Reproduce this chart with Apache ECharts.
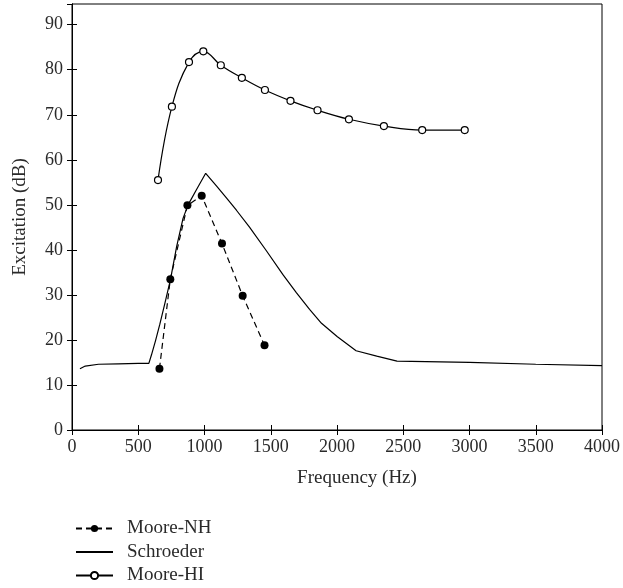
<!DOCTYPE html>
<html>
<head>
<meta charset="utf-8">
<script src="https://cdn.jsdelivr.net/npm/echarts@6/dist/echarts.min.js"></script>
<style>html,body{margin:0;padding:0;background:#fff}#c{width:623px;height:588px}</style>
</head>
<body>
<div id="c"></div>
<script>
// Moore-HI (open circles)
const hiFreq = [649, 754, 883, 991, 1123, 1282, 1456, 1649, 1853, 2090, 2354, 2643, 2964];
const hiVal  = [55.5, 71.8, 81.7, 84.1, 81.0, 78.2, 75.5, 73.1, 71.0, 69.0, 67.5, 66.6, 66.6];
// Moore-NH (filled circles, dashed)
const nhFreq = [660, 742, 871, 979, 1132, 1288, 1453];
const nhVal  = [13.6, 33.5, 49.9, 52.0, 41.4, 29.8, 18.8];
// Schroeder (solid line)
const scFreq = [60, 100, 200, 350, 500, 580, 600, 630, 663, 700, 743, 790, 838, 876, 940, 1009, 1090, 1170, 1241, 1341, 1467, 1592, 1693, 1793, 1883, 2003, 2144, 2300, 2453, 3000, 3500, 4000];
const scVal  = [13.6, 14.2, 14.6, 14.7, 14.8, 14.8, 16.7, 19.8, 23.5, 28.0, 33.4, 40.8, 47.0, 50.0, 53.4, 57.0, 54.2, 51.4, 48.8, 45.0, 39.8, 34.5, 30.5, 26.8, 23.7, 20.7, 17.6, 16.4, 15.3, 15.0, 14.6, 14.3];
const xTicks = [0, 500, 1000, 1500, 2000, 2500, 3000, 3500, 4000];
const yTicks = [0, 10, 20, 30, 40, 50, 60, 70, 80, 90];
const legendNames = ['Moore-NH', 'Schroeder', 'Moore-HI'];

const zip = (a, b) => a.map((v, i) => [v, b[i]]);
const font = 'Liberation Serif';
const txt = '#2a2a2a';
const chart = echarts.init(document.getElementById('c'));
const axCommon = {
  splitLine: {show: false},
  axisLine: {show: true, lineStyle: {color: '#000', width: 1}},
  axisTick: {show: true, inside: true, length: 5, lineStyle: {color: '#000'}},
};
const legendTops = [514, 537.5, 561];
chart.setOption({
  animation: false,
  textStyle: {fontFamily: font},
  grid: {left: 72, right: 20, top: 4, bottom: 158, show: true, borderColor: '#000', borderWidth: 1},
  xAxis: [
    Object.assign({type: 'value', min: xTicks[0], max: xTicks[xTicks.length-1], interval: 500,
      name: 'Frequency (Hz)', nameLocation: 'middle', nameGap: 39,
      nameTextStyle: {fontFamily: font, fontSize: 19, color: txt, padding: [0, 0, 0, 40]},
      axisLabel: {fontFamily: font, fontSize: 18, color: txt, margin: 8, formatter: v => String(v)}}, axCommon),
    Object.assign({type: 'value', position: 'top', min: 0, max: 4000, interval: 500,
      axisLabel: {show: false}}, axCommon)
  ],
  yAxis: [
    Object.assign({type: 'value', min: 0, max: 94.6, interval: 10,
      name: 'Excitation (dB)', nameLocation: 'middle', nameGap: 42,
      nameTextStyle: {fontFamily: font, fontSize: 19, color: txt},
      axisLabel: {fontFamily: font, fontSize: 18, color: txt, margin: 9, showMaxLabel: false,
        formatter: v => yTicks.includes(v) ? String(v) : ''}}, axCommon),
    Object.assign({type: 'value', position: 'right', min: 0, max: 94.6, interval: 10,
      axisLabel: {show: false}}, axCommon)
  ],
  legend: legendNames.map((n, i) => ({
    left: 70, top: legendTops[i], itemWidth: 37, itemHeight: 9, itemGap: 0,
    textStyle: {fontFamily: font, fontSize: 19, color: txt, padding: [0, 0, 0, 9]},
    data: [n === 'Schroeder' ? {name: n, itemStyle: {opacity: 0}} : n]
  })),
  series: [
    {name: 'Moore-NH', type: 'line', data: zip(nhFreq, nhVal), symbol: 'circle', symbolSize: 8,
      itemStyle: {color: '#000'}, lineStyle: {color: '#000', width: 1.2, type: [6, 4]}, z: 3},
    {name: 'Schroeder', type: 'line', data: zip(scFreq, scVal), symbol: 'none', smooth: false,
      itemStyle: {color: '#000'}, lineStyle: {color: '#000', width: 1.2}, z: 2},
    {name: 'Moore-HI', type: 'line', data: zip(hiFreq, hiVal), symbol: 'circle', symbolSize: 7,
      smooth: 0.4,
      itemStyle: {color: '#fff', borderColor: '#000', borderWidth: 1.2},
      lineStyle: {color: '#000', width: 1.2}, z: 3}
  ]
});
</script>
</body>
</html>
